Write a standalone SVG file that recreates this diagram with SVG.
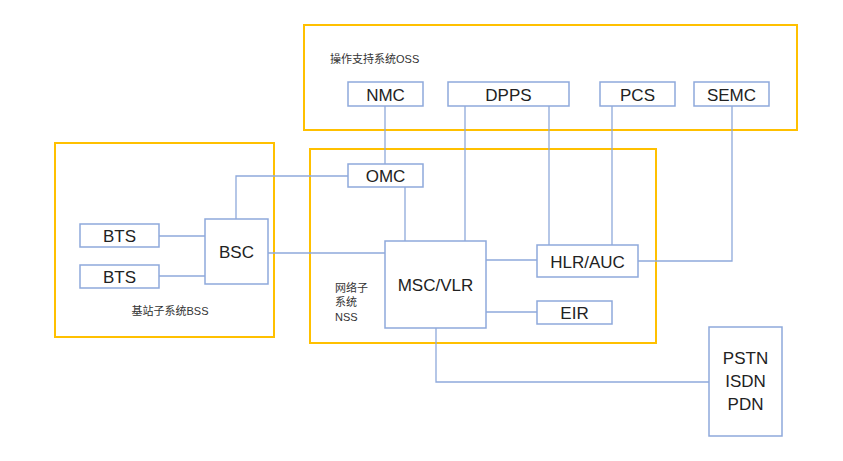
<svg xmlns="http://www.w3.org/2000/svg" width="843" height="461" viewBox="0 0 843 461">
<style>
.grp{fill:none;stroke:#FFC000;stroke-width:2}
.n{fill:#fff;stroke:#8EA9DB;stroke-width:1.5}
.c{fill:none;stroke:#8EA9DB;stroke-width:1.3}
.t{font-family:"Liberation Sans","Noto Sans CJK SC",sans-serif;fill:#222;text-anchor:middle}
.l{font-family:"Liberation Sans","Noto Sans CJK SC",sans-serif;fill:#333;font-size:11px}
</style>
<rect width="843" height="461" fill="#fff"/>
<g id="oss"><rect class="grp" x="304" y="25" width="493" height="105"/><text class="l" x="330" y="63">操作支持系统OSS</text></g>
<g id="nss"><rect class="grp" x="310" y="149" width="346" height="194"/><text class="l" x="335" y="292">网络子</text><text class="l" x="335" y="306">系统</text><text class="l" x="335" y="321">NSS</text></g>
<g id="bss"><rect class="grp" x="55" y="143" width="219" height="194"/><text class="l" x="170" y="315" text-anchor="middle">基站子系统BSS</text></g>
<g id="connectors">
<path class="c" d="M385 106V164M465 106V241M549 106V245M612 106V245M732 106V261H638M405 187V241M348 176H236V219M268 253H385M486 260H537M486 312H537M436 328V382H709M159 236H205M159 276H205"/>
</g>
<g id="NMC"><rect class="n" x="348" y="82" width="75" height="24"/><text class="t" x="385.5" y="101" font-size="17">NMC</text></g>
<g id="DPPS"><rect class="n" x="448" y="82" width="121" height="24"/><text class="t" x="508.5" y="101" font-size="17">DPPS</text></g>
<g id="PCS"><rect class="n" x="600" y="82" width="75" height="24"/><text class="t" x="637.5" y="101" font-size="17">PCS</text></g>
<g id="SEMC"><rect class="n" x="694" y="82" width="75" height="24"/><text class="t" x="731.5" y="101" font-size="17">SEMC</text></g>
<g id="OMC"><rect class="n" x="348" y="164" width="75" height="23"/><text class="t" x="385.5" y="182" font-size="17">OMC</text></g>
<g id="MSC"><rect class="n" x="385" y="241" width="101" height="87"/><text class="t" x="435.5" y="291" font-size="17">MSC/VLR</text></g>
<g id="HLR"><rect class="n" x="537" y="245" width="101" height="32"/><text class="t" x="587.5" y="268" font-size="17">HLR/AUC</text></g>
<g id="EIR"><rect class="n" x="537" y="301" width="75" height="23"/><text class="t" x="574.5" y="319" font-size="17">EIR</text></g>
<g id="PSTN"><rect class="n" x="709" y="327" width="73" height="109"/><text class="t" x="745.5" y="364" font-size="17">PSTN</text><text class="t" x="745.5" y="387" font-size="17">ISDN</text><text class="t" x="745.5" y="410" font-size="17">PDN</text></g>
<g id="BTS1"><rect class="n" x="80" y="224" width="79" height="23"/><text class="t" x="119.5" y="242" font-size="17">BTS</text></g>
<g id="BTS2"><rect class="n" x="80" y="265" width="79" height="23"/><text class="t" x="119.5" y="283" font-size="17">BTS</text></g>
<g id="BSC"><rect class="n" x="205" y="219" width="63" height="65"/><text class="t" x="236.5" y="258" font-size="17">BSC</text></g>
</svg>
